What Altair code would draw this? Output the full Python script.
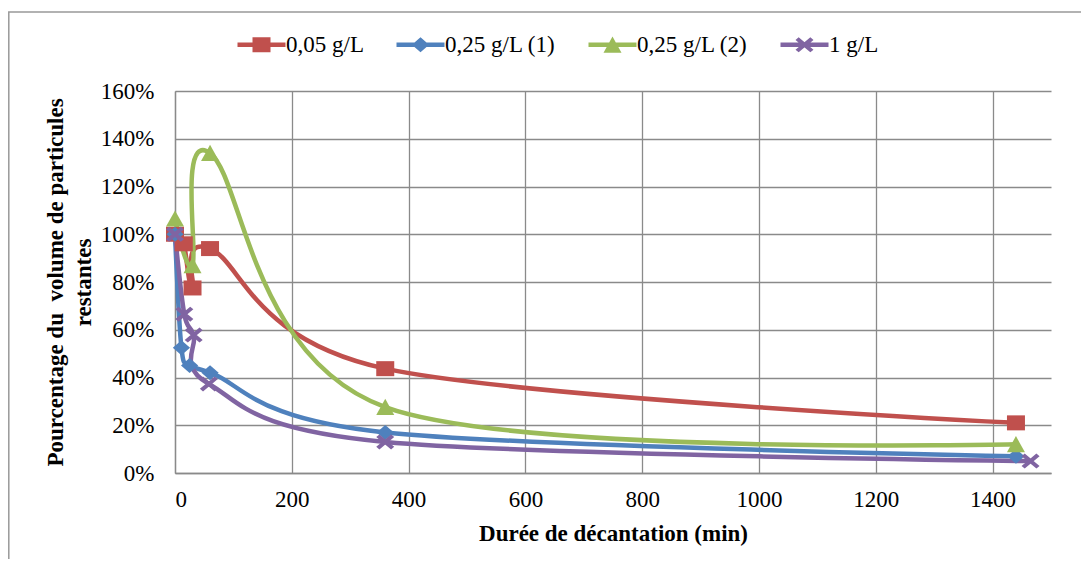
import altair as alt
import pandas as pd

# ---------------- data ----------------
series = ["0,05 g/L", "0,25 g/L (1)", "0,25 g/L (2)", "1 g/L"]
colors = ["#C0504D", "#4F81BD", "#9BBB59", "#8064A2"]

t_005 = [0, 15, 30, 60, 360, 1440]
v_005 = [1.00, 0.96, 0.775, 0.94, 0.437, 0.21]

t_025a = [0, 11, 25, 60, 360, 1440]
v_025a = [1.00, 0.525, 0.45, 0.42, 0.17, 0.07]

t_025b = [0, 30, 60, 360, 1440]
v_025b = [1.065, 0.87, 1.34, 0.276, 0.12]

t_1 = [0, 16, 32, 58, 360, 1465]
v_1 = [1.00, 0.665, 0.578, 0.373, 0.13, 0.05]

x_ticks = [0, 200, 400, 600, 800, 1000, 1200, 1400]
y_ticks = [0, 0.2, 0.4, 0.6, 0.8, 1.0, 1.2, 1.4, 1.6]

rows = []
for name, ts, vs in [(series[0], t_005, v_005), (series[1], t_025a, v_025a),
                     (series[2], t_025b, v_025b), (series[3], t_1, v_1)]:
    for t, v in zip(ts, vs):
        rows.append({"serie": name, "t": t, "v": v})
df = pd.DataFrame(rows)

# ---------------- marker shapes ----------------
SQ = "M-1.2,-1H1.2V1H-1.2Z"
DI = "M0,-1L1.15,0L0,1L-1.15,0Z"
TR = "M0,-1.1L1.2,1.05L-1.2,1.05Z"
XP = ("M-0.78,-1L1.2,0.65L0.78,1L-1.2,-0.65Z "
      "M0.78,-1L1.2,-0.65L-0.78,1L-1.2,0.65Z")
markers = [SQ, DI, TR, XP]
LINE = "M-3.2,-0.3H3.2V0.3H-3.2Z "
legend_symbols = [LINE + m for m in markers]

FONT = "Liberation Serif"
GRID = "#8a8a8a"

W, H = 876, 382

x_enc = alt.X("t:Q", scale=alt.Scale(domain=[0, 1500], nice=False, zero=False),
              axis=alt.Axis(values=x_ticks, grid=True, ticks=False, format="d",
                            title="Durée de décantation (min)",
                            labelPadding=15, titlePadding=11))
y_enc = alt.Y("v:Q", scale=alt.Scale(domain=[0, 1.6], nice=False),
              axis=alt.Axis(values=y_ticks, grid=True, ticks=False, format=".0%",
                            title=["Pourcentage du\u00a0 volume de particules", "restantes"],
                            labelPadding=21, titlePadding=5, titleLineHeight=28))

color_scale = alt.Scale(domain=series, range=colors)

lines = alt.Chart(df).mark_line(interpolate="cardinal", strokeWidth=4.5).encode(
    x=x_enc, y=y_enc,
    color=alt.Color("serie:N", scale=color_scale, legend=None),
    detail="serie:N",
)

points = alt.Chart(df).mark_point(filled=True, size=225, opacity=1, strokeWidth=0).encode(
    x=x_enc, y=y_enc,
    color=alt.Color("serie:N", scale=color_scale, legend=None),
    shape=alt.Shape("serie:N", scale=alt.Scale(domain=series, range=markers), legend=None),
)

leg = alt.Legend(title=None, orient="none", direction="horizontal",
                 columns=4, legendX=75, legendY=-58,
                 symbolSize=225, symbolStrokeWidth=0,
                 labelOffset=13, columnPadding=32, padding=0,
                 labelFont=FONT, labelFontSize=23, labelColor="#000000")

legend_layer = alt.Chart(df).transform_filter("false").mark_point(
    filled=True, opacity=1, strokeWidth=0
).encode(
    x=x_enc, y=y_enc,
    color=alt.Color("serie:N", scale=color_scale, legend=leg),
    shape=alt.Shape("serie:N", scale=alt.Scale(domain=series, range=legend_symbols),
                    legend=leg),
)

frame = alt.Chart(alt.Data(values=[{"k": 1}])).mark_rect(
    filled=False, stroke="#999999", strokeWidth=1.5
).encode(
    x=alt.value(-166.2), x2=alt.value(3000),
    y=alt.value(-79), y2=alt.value(3000),
)

chart = alt.layer(frame, lines, points, legend_layer).resolve_scale(
    shape="independent", color="independent"
).properties(
    width=W, height=H,
    autosize=alt.AutoSizeParams(type="none"),
    padding={"left": 167, "top": 83, "right": 30, "bottom": 86},
    background="white",
).configure_view(stroke=None).configure_axis(
    labelFont=FONT, labelFontSize=23, labelColor="#000000",
    titleFont=FONT, titleFontSize=23, titleFontWeight="bold", titleColor="#000000",
    gridColor=GRID, gridWidth=1.3, domainColor=GRID, domainWidth=1.3,
)

chart.save("out.html", embed_options={"renderer": "svg", "actions": False})
